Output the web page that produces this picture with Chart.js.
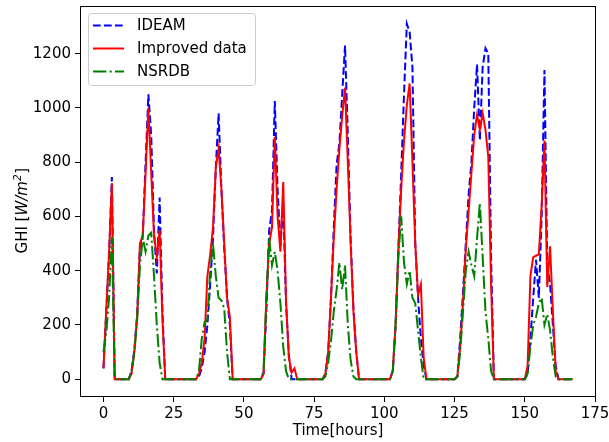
<!DOCTYPE html>
<html><head><meta charset="utf-8">
<script src="https://cdn.jsdelivr.net/npm/chart.js@4"></script>
<style>html,body{margin:0;padding:0;background:#fff}canvas{display:block}</style>
</head><body>
<canvas id="c" width="609" height="442"></canvas>
<script>
const hours = Array.from({length:168},(_,i)=>i);
const ideam = [
 40,250,460,745,0,0,0,0,0,0, 30,110,240,490,530,800,1050,900,550,390, 670,250,0,0,
 0,0,0,0,0,0,0,0,0, 0,10,40,100,200,350,520,780,980,700,480,300,200,0,0,
 0,0,0,0,0,0,0,0,0, 20,250,550,620,1025,700,490,650,280,90,0,0,0,0,0,
 0,0,0,0,0,0,0, 20,100,300,560,790,870,1050,1230,900,520,260,100, 0, 0,0,0,0,
 0,0,0,0,0,0,0, 30,200,480,760,1050,1310,1280,1150,500,300,150,50, 0, 0,0,0,0,
 0,0,0,0,0,0, 10,150,320,500,680,800,1000,1160,880,1150,1220,1200,450, 0, 0,0,0,0,
 0,0,0,0,0,0,0, 20,150,300,440,300,600,1140,420,350,200,50, 0, 0,0,0,0,0
];
const improved = [
 40,255,465,722,0,0,0,0,0,0, 20,100,230,500,530,760,1000,760,530,450, 550,220,0,0,
 0,0,0,0,0,0,0,0,0, 0,20,60,150,380,460,560,780,850,700,500,300,230,0,0,
 0,0,0,0,0,0,0,0,0, 20,300,500,560,893,600,470,727,290,80,25,40,0,0,0,
 0,0,0,0,0,0,0, 20,100,300,520,700,850,970,1075,800,500,250,100, 0, 0,0,0,0,
 0,0,0,0,0,0,0, 30,200,480,700,880,1010,1090,800,500,310,350,80, 0, 0,0,0,0,
 0,0,0,0,0,0, 10,120,280,480,620,760,900,975,920,980,920,820,350, 0, 0,0,0,0,
 0,0,0,0,0,0,0, 50,380,450,455,460,640,880,340,490,250,30, 0, 0,0,0,0,0
];
const nsrdb = [
 100,170,300,525,0,0,0,0,0,0, 30,100,220,420,520,470,530,540,380,200, 60,0,0,0,
 0,0,0,0,0,0,0,0,0, 0,30,150,210,220,400,500,380,300,290,260,100,0,0,0,
 0,0,0,0,0,0,0,0,0, 30,300,520,420,470,400,280,120,30,0,0,0,0,0,0,
 0,0,0,0,0,0,0, 10,60,140,250,330,430,330,420,200,70,10,0, 0, 0,0,0,0,
 0,0,0,0,0,0,0, 30,200,450,600,430,350,400,300,280,180,80,0, 0, 0,0,0,0,
 0,0,0,0,0,0, 10,100,250,400,470,420,380,520,650,450,250,150,30, 0, 0,0,0,0,
 0,0,0,0,0,0,0, 20,120,200,230,280,300,200,240,180,80,10, 0, 0,0,0,0,0
];
const seriesNames = ['IDEAM','Improved data','NSRDB'];
const seriesColors = ['#0000ff','#ff0000','#008000'];
const xTicks = [0,25,50,75,100,125,150,175];
const yTicks = [0,200,400,600,800,1000,1200];
const xTitle = 'Time[hours]';
const yTitleParts = ['GHI [', 'W/m', '2', ']'];

const FONT = "'DejaVu Sans', sans-serif";
const dashes = [[7.7,3.3], [], [13.3,3.3,2.1,3.3]];
const series = [ideam, improved, nsrdb];

const frame = {
  id:'frame',
  afterDraw(chart){
    const {ctx, chartArea:a} = chart;
    ctx.save();
    ctx.strokeStyle='#000'; ctx.lineWidth=1;
    ctx.strokeRect(Math.round(a.left)+0.5, Math.round(a.top)+0.5, Math.round(a.right-a.left)-1, Math.round(a.bottom-a.top)-1);
    ctx.restore();
  }
};
const yTitle = {
  id:'ytitle',
  afterDraw(chart){
    const ctx = chart.ctx;
    ctx.save();
    ctx.translate(27, 211);
    ctx.rotate(-Math.PI/2);
    ctx.fillStyle='#000';
    ctx.textBaseline='alphabetic';
    const fN = "15px "+FONT, fI = "italic 15px "+FONT, fS = "italic 10.5px "+FONT;
    const fonts = [fN, fI, fS, fN];
    const widths = yTitleParts.map((t,i)=>{ctx.font=fonts[i]; return ctx.measureText(t).width;});
    let x = -widths.reduce((s,w)=>s+w,0)/2;
    yTitleParts.forEach((t,i)=>{
      ctx.font=fonts[i];
      ctx.fillText(t, x, i===2 ? -6.5 : 0);
      x += widths[i] + (i===2?0.5:0);
    });
    ctx.restore();
  }
};
const legendBox = {
  id:'legendBox',
  afterDatasetsDraw(chart){
    const ctx = chart.ctx;
    ctx.save();
    const x0=88.5, y0=13.5, w=167, h=72, r=3;
    ctx.beginPath();
    ctx.moveTo(x0+r,y0); ctx.lineTo(x0+w-r,y0); ctx.arcTo(x0+w,y0,x0+w,y0+r,r);
    ctx.lineTo(x0+w,y0+h-r); ctx.arcTo(x0+w,y0+h,x0+w-r,y0+h,r);
    ctx.lineTo(x0+r,y0+h); ctx.arcTo(x0,y0+h,x0,y0+h-r,r);
    ctx.lineTo(x0,y0+r); ctx.arcTo(x0,y0,x0+r,y0,r); ctx.closePath();
    ctx.fillStyle='rgba(255,255,255,0.8)'; ctx.fill();
    ctx.strokeStyle='#cccccc'; ctx.lineWidth=1; ctx.stroke();
    const rows=[25.5,48.5,71.5];
    seriesNames.forEach((n,i)=>{
      ctx.beginPath();
      ctx.setLineDash(dashes[i]);
      ctx.strokeStyle=seriesColors[i]; ctx.lineWidth=2;
      ctx.moveTo(93, rows[i]); ctx.lineTo(124, rows[i]); ctx.stroke();
      ctx.setLineDash([]);
      ctx.fillStyle='#000'; ctx.font="15px "+FONT; ctx.textBaseline='middle';
      ctx.fillText(n, 137, rows[i]+0.5);
    });
    ctx.restore();
  }
};

function zeroPad(axis){ axis.paddingTop=0; axis.paddingBottom=0; axis.paddingLeft=0; axis.paddingRight=0; }

new Chart(document.getElementById('c'), {
  type:'line',
  data:{
    datasets: series.map((s,i)=>({
      label: seriesNames[i],
      data: hours.map((h,k)=>({x:h, y:s[k]})),
      borderColor: seriesColors[i],
      backgroundColor: seriesColors[i],
      borderWidth: 2,
      borderDash: dashes[i],
      pointRadius: 0,
      tension: 0,
      fill: false,
      order: 3-i
    }))
  },
  options:{
    responsive:false,
    animation:false,
    layout:{padding:{left:0,right:13,top:6,bottom:0}},
    plugins:{legend:{display:false}, tooltip:{enabled:false}},
    scales:{
      x:{
        type:'linear', min:-8.35, max:175.35,
        afterBuildTicks(axis){ axis.ticks = xTicks.map(v=>({value:v})); },
        afterFit(axis){ axis.height = 45; zeroPad(axis); },
        grid:{drawOnChartArea:false, tickLength:5, color:'#000', tickColor:'#000'},
        border:{display:false},
        ticks:{autoSkip:false, maxRotation:0, padding:3, color:'#000', font:{family:FONT, size:15}, callback:(v)=>String(v)},
        title:{display:true, text:xTitle, color:'#000', font:{family:FONT, size:15}, padding:{top:0,bottom:2}}
      },
      y:{
        type:'linear', min:-65.5, max:1375.5,
        afterBuildTicks(axis){ axis.ticks = yTicks.map(v=>({value:v})); },
        afterFit(axis){ axis.width = 80; zeroPad(axis); },
        grid:{drawOnChartArea:false, tickLength:5, color:'#000', tickColor:'#000'},
        border:{display:false},
        ticks:{padding:4, color:'#000', font:{family:FONT, size:15}, callback:(v)=>String(v)}
      }
    }
  },
  plugins:[frame, yTitle, legendBox]
});
</script>
</body></html>
